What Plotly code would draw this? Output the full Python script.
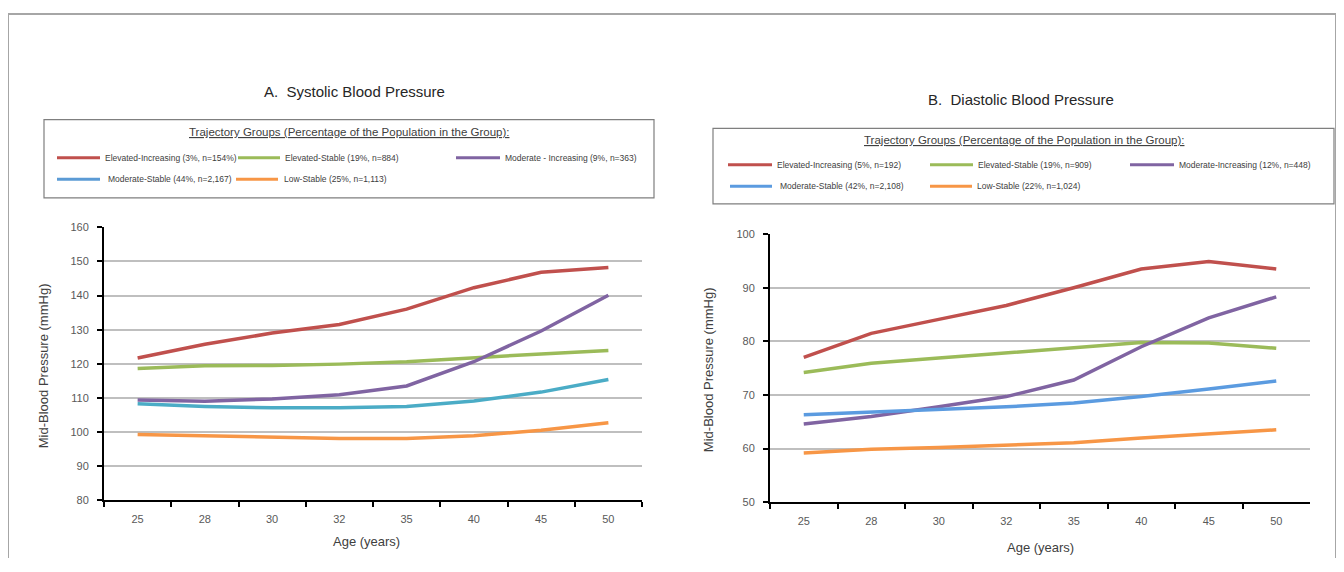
import plotly.graph_objects as go

# ---------------- data ----------------
ages = ["25", "28", "30", "32", "35", "40", "45", "50"]

sbp_names = ["Elevated-Increasing (3%, n=154%)", "Elevated-Stable (19%, n=884)",
             "Moderate - Increasing (9%, n=363)", "Moderate-Stable (44%, n=2,167)",
             "Low-Stable (25%, n=1,113)"]
sbp_elev_inc = [121.7, 125.7, 129.0, 131.5, 136.0, 142.3, 146.8, 148.2]
sbp_elev_stable = [118.6, 119.4, 119.5, 119.9, 120.6, 121.8, 122.9, 123.9]
sbp_mod_inc = [109.4, 109.0, 109.7, 110.9, 113.5, 120.6, 129.6, 140.1]
sbp_mod_stable = [108.3, 107.5, 107.1, 107.1, 107.5, 109.1, 111.7, 115.4]
sbp_low_stable = [99.3, 98.9, 98.5, 98.1, 98.1, 98.9, 100.5, 102.7]

dbp_names = ["Elevated-Increasing (5%, n=192)", "Elevated-Stable (19%, n=909)",
             "Moderate-Increasing (12%, n=448)", "Moderate-Stable (42%, n=2,108)",
             "Low-Stable (22%, n=1,024)"]
dbp_elev_inc = [77.0, 81.5, 84.1, 86.7, 90.0, 93.5, 94.9, 93.5]
dbp_elev_stable = [74.2, 75.9, 76.9, 77.8, 78.8, 79.8, 79.7, 78.7]
dbp_mod_inc = [64.6, 66.0, 67.8, 69.7, 72.8, 79.0, 84.4, 88.3]
dbp_mod_stable = [66.3, 66.8, 67.3, 67.8, 68.5, 69.7, 71.1, 72.6]
dbp_low_stable = [59.2, 59.9, 60.2, 60.6, 61.1, 62.0, 62.8, 63.5]

sbp_series = [sbp_elev_inc, sbp_elev_stable, sbp_mod_inc, sbp_mod_stable, sbp_low_stable]
dbp_series = [dbp_elev_inc, dbp_elev_stable, dbp_mod_inc, dbp_mod_stable, dbp_low_stable]

# ---------------- styles ----------------
OFF = 8                      # default page margin around the figure
W, H = 1344 - 2 * OFF, 572 - 2 * OFF
sbp_colors = ["#C0504D", "#9BBB59", "#8064A2", "#4BACC6", "#F79646"]
sbp_legend_colors = ["#C0504D", "#9BBB59", "#8064A2", "#5B9BD5", "#F79646"]
dbp_colors = ["#C0504D", "#9BBB59", "#8064A2", "#5B9BE0", "#F79646"]
FONT = "Liberation Sans, Arial, sans-serif"
TXT = "#404040"


def px(x):
    return min(max((x - OFF) / W, 0), 1)


def py(y):
    return min(max(1 - (y - OFF) / H, 0), 1)


fig = go.Figure()
for vals, name, col in zip(sbp_series, sbp_names, sbp_colors):
    fig.add_trace(go.Scatter(x=ages, y=vals, name=name, mode="lines",
                             line=dict(color=col, width=3.5),
                             xaxis="x", yaxis="y", showlegend=False))
for vals, name, col in zip(dbp_series, dbp_names, dbp_colors):
    fig.add_trace(go.Scatter(x=ages, y=vals, name=name, mode="lines",
                             line=dict(color=col, width=3.5),
                             xaxis="x2", yaxis="y2", showlegend=False))

axis_common = dict(showline=True, linecolor="black", linewidth=2,
                   ticks="outside", tickcolor="black", ticklen=5, tickwidth=2,
                   tickfont=dict(family=FONT, size=11, color="#595959"),
                   zeroline=False)

fig.update_layout(
    width=W, height=H, margin=dict(l=0, r=0, t=0, b=0),
    paper_bgcolor="white", plot_bgcolor="white",
    font=dict(family=FONT, color=TXT),
    xaxis=dict(domain=[px(104), px(642)], type="category", tickson="boundaries",
               range=[-0.5, 7.5], showgrid=False, anchor="y",
               ticklabelstandoff=8, **axis_common),
    yaxis=dict(domain=[py(505), py(226)], range=[80, 160], dtick=10,
               showgrid=True, gridcolor="#BFBFBF", gridwidth=1.5,
               anchor="x", ticklabelstandoff=6, **axis_common),
    xaxis2=dict(domain=[px(770), px(1310)], type="category", tickson="boundaries",
                range=[-0.5, 7.5], showgrid=False, anchor="y2",
                ticklabelstandoff=8, **axis_common),
    yaxis2=dict(domain=[py(507), py(233)], range=[50, 100], dtick=10,
                showgrid=True, gridcolor="#BFBFBF", gridwidth=1.5,
                anchor="x2", ticklabelstandoff=6, **axis_common),
)

shapes = []
annotations = []

# outer frame
for (x0, y0, x1, y1) in [(6, 7, 1338, 7), (6, 7, 6, 572), (1338, 7, 1338, 572)]:
    shapes.append(dict(type="line", xref="paper", yref="paper",
                       x0=px(x0), y0=py(y0), x1=px(x1), y1=py(y1),
                       line=dict(color="#A6A6A6", width=2)))


def text(t, x, y, size, color=TXT, angle=0, anchor="center"):
    annotations.append(dict(text=t, x=px(x), y=py(y), xref="paper", yref="paper",
                            xanchor=anchor, yanchor="middle", showarrow=False,
                            textangle=angle,
                            font=dict(size=size, color=color, family=FONT)))


# titles
text("A.  Systolic Blood Pressure", 355, 87, 15, "#262626")
text("B.  Diastolic Blood Pressure", 1021, 95, 15, "#262626")

# axis titles
text("Age (years)", 366, 547, 13)
text("Age (years)", 1040, 553, 13)
text("Mid-Blood Pressure (mmHg)", 43, 368, 13, angle=-90)
text("Mid-Blood Pressure (mmHg)", 708, 372, 13, angle=-90)


def legend_box(box, title_y, rows_y, entries, names, colors):
    bx0, by0, bx1, by1 = box
    shapes.append(dict(type="rect", xref="paper", yref="paper",
                       x0=px(bx0), y0=py(by1), x1=px(bx1), y1=py(by0),
                       line=dict(color="#7F7F7F", width=1.2), fillcolor="white"))
    text("<u>Trajectory Groups (Percentage of the Population in the Group):</u>",
         (bx0 + bx1) / 2, title_y, 11.5)
    for (row, lx0, lx1, tx), name, col in zip(entries, names, colors):
        yy = rows_y[row]
        shapes.append(dict(type="line", xref="paper", yref="paper",
                           x0=px(lx0), y0=py(yy), x1=px(lx1), y1=py(yy),
                           line=dict(color=col, width=3)))
        text(name, tx, yy, 8.5, anchor="left")


legend_box((44, 116, 654, 196), 129, [155, 177],
           [(0, 57, 100, 103), (0, 238, 280, 283), (0, 456, 500, 503),
            (1, 57, 100, 106), (1, 236, 278, 282)],
           sbp_names, sbp_legend_colors)
legend_box((713, 125, 1334, 202), 137, [162, 184],
           [(0, 728, 772, 775), (0, 930, 973, 976), (0, 1130, 1174, 1177),
            (1, 730, 772, 778), (1, 930, 972, 975)],
           dbp_names, dbp_colors)

fig.update_layout(shapes=shapes, annotations=annotations)
fig.write_html("out.html")
